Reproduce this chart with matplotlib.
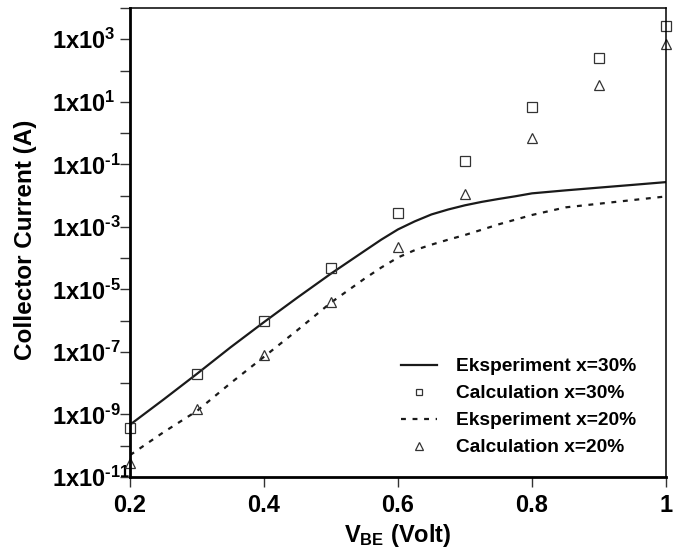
import numpy as np
import matplotlib
matplotlib.use('Agg')
import matplotlib.pyplot as plt
from matplotlib.ticker import FixedLocator, FuncFormatter, NullLocator

plt.rcParams['font.family'] = ['Liberation Sans', 'DejaVu Sans']
plt.rcParams['font.weight'] = 'bold'
plt.rcParams['mathtext.fontset'] = 'custom'
plt.rcParams['mathtext.rm'] = 'Liberation Sans:bold'
plt.rcParams['mathtext.it'] = 'Liberation Sans:bold'
plt.rcParams['mathtext.bf'] = 'Liberation Sans:bold'

# eksperiment (garis)
v_line = [0.2, 0.25, 0.3, 0.35, 0.4, 0.45, 0.5, 0.55, 0.575, 0.6, 0.625, 0.65, 0.675, 0.7,
          0.725, 0.75, 0.775, 0.8, 0.85, 0.9, 0.95, 1.0]
ic_exp30 = [4.7e-10, 3e-9, 2e-8, 1.4e-7, 9e-7, 5.5e-6, 3.2e-5, 1.7e-4, 3.9e-4, 8.3e-4,
            1.5e-3, 2.5e-3, 3.6e-3, 4.9e-3, 6.3e-3, 7.8e-3, 9.5e-3, 1.18e-2, 1.47e-2,
            1.8e-2, 2.2e-2, 2.7e-2]
ic_exp20 = [5e-11, 2.7e-10, 1.3e-9, 1e-8, 7e-8, 5e-7, 3.8e-6, 2.2e-5, 5e-5, 1.05e-4,
            1.8e-4, 2.7e-4, 3.9e-4, 5.5e-4, 8.1e-4, 1.2e-3, 1.7e-3, 2.4e-3, 4.2e-3,
            5.5e-3, 7.2e-3, 9.4e-3]

# kalkulasi (titik)
v_calc = [0.2, 0.3, 0.4, 0.5, 0.6, 0.7, 0.8, 0.9, 1.0]
ic_calc30 = [3.7e-10, 2e-8, 1e-6, 5e-5, 2.7e-3, 0.13, 7, 250, 2600]
ic_calc20 = [2.8e-11, 1.5e-9, 8e-8, 4e-6, 2.2e-4, 0.011, 0.68, 34, 700]

legend_labels = ['Eksperiment x=30%', 'Calculation x=30%', 'Eksperiment x=20%', 'Calculation x=20%']


def exp_formatter(y, pos):
    e = int(round(np.log10(y)))
    if e % 2 == 0:
        return ''
    s = str(e).replace('-', '\u2010')  # tanda hubung biasa, bukan minus
    return r'$\mathrm{1x10}^{%s}$' % s


fig = plt.figure(figsize=(6.74, 5.53), dpi=100)
ax = fig.add_axes([130 / 674, 1 - 477 / 553, 536 / 674, 469 / 553])

ax.plot(v_line, ic_exp30, '-', color='#1a1a1a', lw=1.6, label=legend_labels[0])
ax.plot(v_calc, ic_calc30, 's', ms=6.5, mfc='none', mec='#333333', mew=0.9, clip_on=False, label=legend_labels[1])
ax.plot(v_line, ic_exp20, '--', color='#1a1a1a', lw=1.6, dashes=(2.2, 3.0), label=legend_labels[2])
ax.plot(v_calc, ic_calc20, '^', ms=7, mfc='none', mec='#333333', mew=0.9, clip_on=False, label=legend_labels[3])

ax.set_yscale('log')
ax.set_xlim(0.2, 1.0)
ax.set_ylim(1e-11, 1e4)
ax.yaxis.set_major_locator(FixedLocator([10.0 ** k for k in range(-11, 5)]))
ax.yaxis.set_major_formatter(FuncFormatter(exp_formatter))
ax.yaxis.set_minor_locator(NullLocator())
ax.set_xticks([0.2, 0.4, 0.6, 0.8, 1.0])
ax.set_xticklabels(['0.2', '0.4', '0.6', '0.8', '1'])

ax.tick_params(axis='both', direction='out', length=7, width=1, labelsize=17, color='#333333')
ax.tick_params(axis='x', pad=5)
# label sumbu y rata kiri pada x ~ 52 px
ax.tick_params(axis='y', pad=(130 - 52) * 0.72 - 7)
for lbl in ax.get_yticklabels():
    lbl.set_horizontalalignment('left')

for s in ['left', 'bottom']:
    ax.spines[s].set_linewidth(2)
for s in ['top', 'right']:
    ax.spines[s].set_linewidth(1.1)

ax.set_xlabel(r'$\mathrm{V_{BE}}$ (Volt)', fontsize=17, fontweight='bold', labelpad=4)
ax.set_ylabel('Collector Current (A)', fontsize=17.5, fontweight='bold')
ax.yaxis.set_label_coords(-0.1735, 0.505)

leg = ax.legend(loc='upper left', bbox_to_anchor=(0.487, 0.2745), frameon=False, fontsize=13.8,
                borderpad=0, labelspacing=0.5, handlelength=1.9, handletextpad=1.0, markerscale=0.75)

plt.savefig('out.png', dpi=100)
plt.close()
